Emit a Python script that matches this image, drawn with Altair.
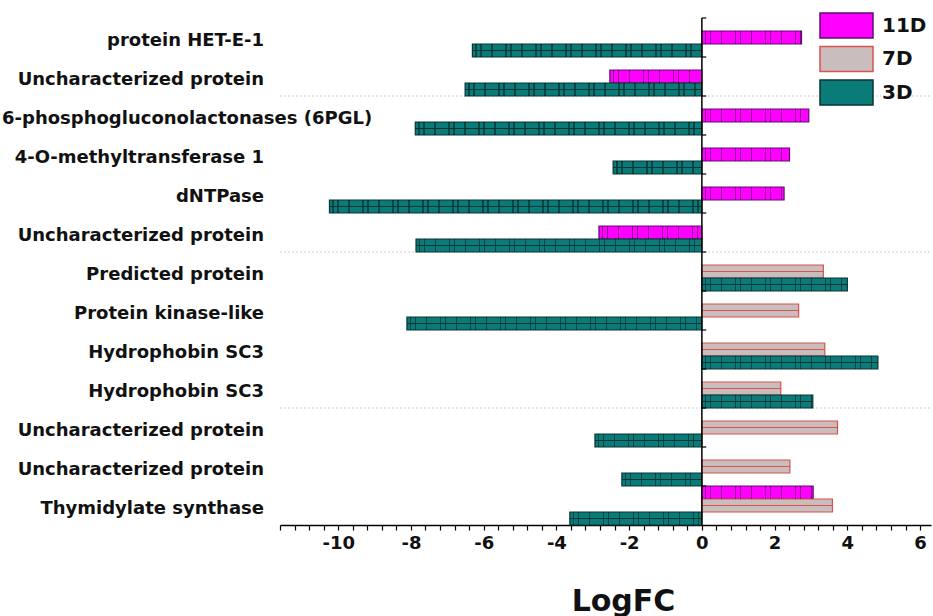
import altair as alt
import pandas as pd

# ---------------- data ----------------
proteins = [
    "protein HET-E-1", "Uncharacterized protein", "6-phosphogluconolactonases (6PGL)",
    "4-O-methyltransferase 1", "dNTPase", "Uncharacterized protein",
    "Predicted protein", "Protein kinase-like", "Hydrophobin SC3", "Hydrophobin SC3",
    "Uncharacterized protein", "Uncharacterized protein", "Thymidylate synthase",
]
series_names = ["11D", "7D", "3D"]
logfc_11d = [2.74, -2.53, 2.94, 2.41, 2.26, -2.83, None, None, None, None, None, None, 3.06]
logfc_7d = [None, None, None, None, None, None, 3.34, 2.66, 3.38, 2.17, 3.73, 2.42, 3.59]
logfc_3d = [-6.31, -6.51, -7.88, -2.44, -10.24, -7.86, 4.00, -8.11, 4.84, 3.05, -2.94, -2.20, -3.63]
section_starts = [2, 6, 10]
x_major_ticks = [-10, -8, -6, -4, -2, 0, 2, 4, 6]

# ---------------- layout / style ----------------
XMIN, XMAX = -11.6, 6.3
W, H = 651, 507
PX = W / (XMAX - XMIN)
SLOTS = 3
NROWS = len(proteins) * SLOTS
fill_colors = ["#FF00FF", "#C9BDBD", "#0B7B79"]
stroke_colors = ["#5B1070", "#D9534F", "#0A3433"]
FONT = "DejaVu Sans"

minor_ticks = [round(XMIN + 0.4 * i, 1) for i in range(int(round((XMAX - XMIN) / 0.4)) + 1)]

rows = []
for g, name in enumerate(proteins):
    vals = [logfc_11d[g], logfc_7d[g], logfc_3d[g]]
    present = [(s, v) for s, v in zip(series_names, vals) if v is not None]
    first = SLOTS - len(present)
    for i, (s, v) in enumerate(present):
        rows.append({"row": g * SLOTS + first + i, "name": name, "series": s, "value": v})
df = pd.DataFrame(rows)
labels_df = pd.DataFrame({"grp": list(range(len(proteins))), "name": proteins})
sep_df = pd.DataFrame({"grp": section_starts})

# vertical hatch stripes (fixed pixel spacing) as a gradient fill
CLEAR, DARK = "rgba(0,0,0,0)", "rgba(0,0,0,0.42)"
stops = [f"{{offset: 0, color: '{CLEAR}'}}"]
for k in range(14):
    for off in (3, 8, 19):
        p = 30 * k + off
        q = p + 1.4
        stops.append(f"{{offset: min(1, {p}/datum.len), color: '{CLEAR}'}}")
        stops.append(f"{{offset: min(1, {p}/datum.len), color: '{DARK}'}}")
        stops.append(f"{{offset: min(1, {q}/datum.len), color: '{DARK}'}}")
        stops.append(f"{{offset: min(1, {q}/datum.len), color: '{CLEAR}'}}")
hatch_expr = "{gradient: 'linear', x1: 0, y1: 0, x2: 1, y2: 0, stops: [" + ", ".join(stops) + "]}"

y_scale = alt.Scale(domain=[0, NROWS], reverse=True, nice=False, zero=False)

x_enc = alt.X(
    "value:Q",
    scale=alt.Scale(domain=[XMIN, XMAX], nice=False, zero=False),
    axis=alt.Axis(
        values=minor_ticks, tickCount=200,
        labelExpr="abs(datum.value % 2) < 0.001 ? toString(round(datum.value)) : ''",
        tickSize=5,
        tickColor="black", tickWidth=1.2, domainColor="black", domainWidth=1.5,
        labelFont=FONT, labelFontSize=18, labelFontWeight="bold", labelColor="#111",
        labelPadding=4, labelOverlap=False, labelFlush=False, grid=False,
        title="LogFC", titleFont=FONT, titleFontSize=30, titleFontWeight="bold",
        titleColor="#111", titleX=343, titleY=85, titleAlign="center",
        titleBaseline="alphabetic", titleAnchor="start",
    ),
)

legend = alt.Legend(
    title=None, orient="none", legendX=553, legendY=-6,
    symbolType="M-2.12,-1L2.12,-1L2.12,1L-2.12,1Z", symbolSize=625, symbolStrokeWidth=1.5,
    labelFont=FONT, labelFontSize=20, labelFontWeight="bold",
    labelColor="#111", labelOffset=22, rowPadding=2.5,
)

base = alt.Chart(df).transform_calculate(
    zero="0", top="datum.row", bottom="datum.row + 1", mid="datum.row + 0.5"
)

bars = base.mark_bar(strokeWidth=1.2).encode(
    x=x_enc,
    x2=alt.X2("zero:Q"),
    y=alt.Y("top:Q", scale=y_scale, axis=None),
    y2=alt.Y2("bottom:Q"),
    fill=alt.Fill("series:N", scale=alt.Scale(domain=series_names, range=fill_colors), legend=legend),
    stroke=alt.Stroke("series:N", scale=alt.Scale(domain=series_names, range=stroke_colors), legend=legend),
)

hatch = base.transform_filter("datum.series != '7D'").transform_calculate(
    len=f"abs(datum.value) * {PX}"
).transform_calculate(hatch=hatch_expr).mark_bar(strokeWidth=0).encode(
    x=alt.X("value:Q"), x2=alt.X2("zero:Q"),
    y=alt.Y("top:Q", axis=None), y2=alt.Y2("bottom:Q"),
    color=alt.Color("hatch:N", scale=None, legend=None),
)

mid_7d = base.transform_filter("datum.series == '7D'").mark_rule(color="#D9534F", strokeWidth=1).encode(
    x=alt.X("value:Q"), x2=alt.X2("zero:Q"), y=alt.Y("mid:Q", axis=None))
mid_3d = base.transform_filter("datum.series == '3D'").mark_rule(color="#0A3433", strokeWidth=1).encode(
    x=alt.X("value:Q"), x2=alt.X2("zero:Q"), y=alt.Y("mid:Q", axis=None))

separators = alt.Chart(sep_df).transform_calculate(edge=f"datum.grp * {SLOTS}").mark_rule(
    color="#cfcfcf", strokeDash=[2, 2], strokeWidth=1
).encode(y=alt.Y("edge:Q", axis=None), x=alt.value(0), x2=alt.value(W))

zero_line = alt.Chart(pd.DataFrame({"z": [0]})).mark_rule(color="black", strokeWidth=1.5).encode(
    x=alt.X("z:Q"), y=alt.value(0), y2=alt.value(H))

zero_ticks = alt.Chart(labels_df).transform_calculate(
    edge=f"datum.grp * {SLOTS}", z0="0", z1="0.12"
).mark_rule(color="black", strokeWidth=1.2).encode(
    y=alt.Y("edge:Q", axis=None), x=alt.X("z0:Q"), x2=alt.X2("z1:Q"))

lab_base = alt.Chart(labels_df).transform_calculate(center=f"datum.grp * {SLOTS} + {SLOTS / 2}")
text_normal = lab_base.transform_filter("length(datum.name) <= 28").mark_text(
    align="right", baseline="middle", font=FONT, fontSize=18, fontWeight="bold", color="#111", dy=3
).encode(y=alt.Y("center:Q", axis=None), x=alt.value(-16), text="name:N")

text_long = lab_base.transform_filter("length(datum.name) > 28").mark_text(
    align="left", baseline="middle", font=FONT, fontSize=18, fontWeight="bold", color="#111", dy=3
).encode(y=alt.Y("center:Q", axis=None), x=alt.value(-278), text="name:N")

chart = alt.layer(
    separators, bars, hatch, mid_7d, mid_3d, zero_line, zero_ticks, text_normal, text_long
).properties(
    width=W, height=H,
    padding={"left": 280, "top": 18, "right": 2, "bottom": 91},
    autosize=alt.AutoSizeParams(type="none"),
).configure_view(stroke=None)

chart.save("out.html", embed_options={"renderer": "svg", "actions": False})
